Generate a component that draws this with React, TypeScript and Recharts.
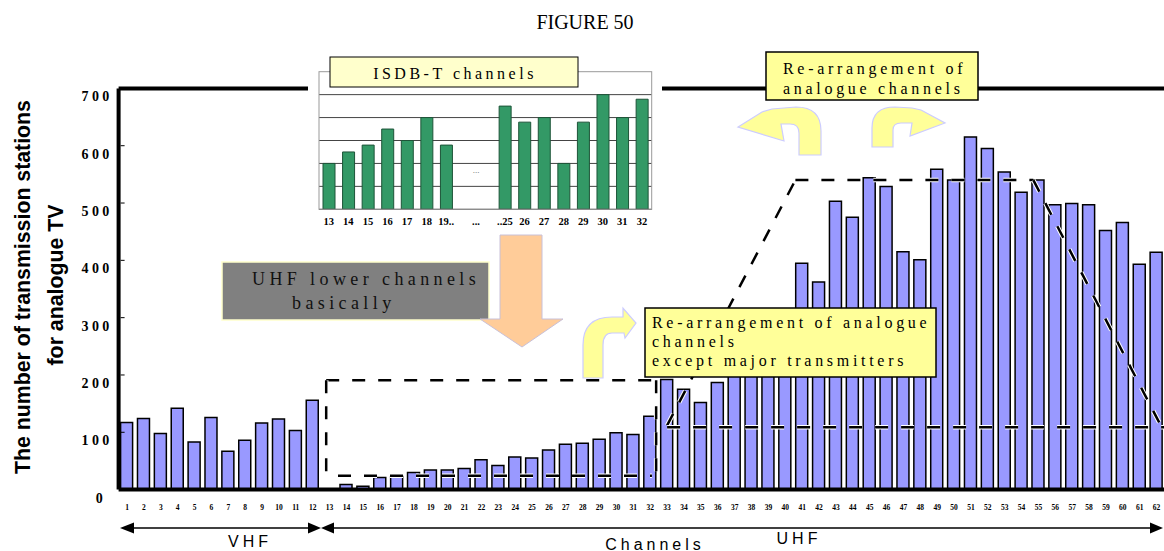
import React from 'react';
import { ComposedChart, BarChart, Bar, XAxis, YAxis, ReferenceLine } from 'recharts';

// analogue TV channels 1-12 (VHF) and 13-62 (UHF)
const channels = Array.from({ length: 62 }, (_, i) => i + 1);

// number of transmission stations per channel
const stations = [
  117, 124, 98, 142, 83, 126, 67, 86, 116, 123, 103, 156,
  1, 9, 6, 21, 23, 30, 34, 34, 37, 52, 42, 57, 55, 69, 79, 81, 88, 99, 96, 128,
  192, 175, 152, 187, 230, 260, 275, 290, 395, 362,
  503, 475, 544, 529, 415, 401, 559, 540, 615, 595,
  554, 519, 540, 497, 499, 497, 452, 466, 393, 414,
];

const yTicks = [0, 100, 200, 300, 400, 500, 600, 700];

// inset: ISDB-T channels
const isdbLabels = ['13', '14', '15', '16', '17', '18', '19..', '', '', '..25', '26', '27', '28', '29', '30', '31', '32'];
const isdbValues = [2.0, 2.5, 2.8, 3.5, 3.0, 4.0, 2.8, null, null, 4.5, 3.8, 4.0, 2.0, 3.8, 5.0, 4.0, 4.8];
const isdbGrid = [1, 2, 3, 4, 5];

// dashed outlines (channel, stations)
const lowerBox = [
  [{ x: 12.8, y: 191 }, { x: 32.35, y: 191 }],
  [{ x: 12.8, y: 191 }, { x: 12.8, y: 24 }],
  [{ x: 13.5, y: 24 }, { x: 32.1, y: 24 }],
  [{ x: 32.35, y: 191 }, { x: 32.35, y: 24 }],
];
const upperOutline = [
  [{ x: 33, y: 112 }, { x: 40.6, y: 540 }],
  [{ x: 40.6, y: 540 }, { x: 54.7, y: 540 }],
  [{ x: 54.7, y: 540 }, { x: 62.3, y: 109 }],
  [{ x: 33, y: 109 }, { x: 62.5, y: 109 }],
];

const data = channels.map((ch, i) => ({ ch, v: stations[i] }));
const isdbData = isdbLabels.map((l, i) => ({ l, v: isdbValues[i] }));

const SERIF = '"Liberation Serif", "Times New Roman", serif';
const SANS = '"Liberation Sans", Arial, sans-serif';
const PLOT_LEFT = 118.6;

const YTick = (props: any) => {
  const { y, payload } = props;
  const zero = payload.value === 0;
  return (
    <g>
      <line x1={PLOT_LEFT + 2} x2={PLOT_LEFT + 6} y1={y} y2={y} stroke="#000" strokeWidth={1} />
      <text x={zero ? 106 : 112.5} y={y + 8.5} textAnchor="end" dominantBaseline="central"
        fontFamily={SERIF} fontSize={14} fontWeight={600} letterSpacing={3.3} fill="#000">
        {payload.value}
      </text>
    </g>
  );
};

const XTick = (props: any) => {
  const { x, payload } = props;
  return (
    <text x={x} y={507.5} textAnchor="middle" dominantBaseline="central"
      fontFamily={SERIF} fontSize={7.5} fontWeight="bold" fill="#000">
      {payload.value}
    </text>
  );
};

const InsetTick = (props: any) => {
  const { x, payload } = props;
  return (
    <text x={x} y={171.7} textAnchor="middle" dominantBaseline="central"
      fontFamily={SERIF} fontSize={10.5} fontWeight="bold" fill="#000">
      {payload.value}
    </text>
  );
};

const dashed = (segs: { x: number; y: number }[][], key: string) =>
  segs.flatMap((s, i) => [
    <ReferenceLine key={`${key}w${i}`} segment={s} stroke="#fff" strokeWidth={4.5} strokeDasharray="13 13" />,
    <ReferenceLine key={`${key}b${i}`} segment={s} stroke="#000" strokeWidth={2.5} strokeDasharray="13 13" />,
  ]);

export default function App() {
  return (
    <div style={{ position: 'absolute', left: 0, top: 0, width: 1164, height: 551, background: '#fff', overflow: 'hidden' }}>
      <div style={{ position: 'absolute', left: 0, top: 0 }}>
        <ComposedChart width={1164} height={551} data={data}
          margin={{ top: 88.4, right: -1, left: 58.6, bottom: 31.4 }}>
          <XAxis type="number" dataKey="ch" domain={[0.5, 62.5]} allowDataOverflow ticks={channels} interval={0}
            height={30} tickLine={false} axisLine={{ stroke: '#000', strokeWidth: 4 }} tick={<XTick />} />
          <YAxis type="number" domain={[0, 700]} allowDataOverflow ticks={yTicks} width={60}
            tickLine={false} axisLine={{ stroke: '#000', strokeWidth: 4 }} tick={<YTick />} />
          <ReferenceLine y={700} stroke="#000" strokeWidth={4} />
          <Bar dataKey="v" fill="#9999ff" stroke="#000" strokeWidth={1.5} barSize={12} isAnimationActive={false} />
          {dashed(lowerBox, 'lo')}
          {dashed(upperOutline, 'up')}
        </ComposedChart>
      </div>

      <div style={{ position: 'absolute', left: 308, top: 50, width: 354, height: 180, background: '#fff' }}>
        <BarChart width={354} height={180} data={isdbData} margin={{ top: 21.7, right: 10.3, left: 11, bottom: 0 }}>
          <YAxis width={0} domain={[0, 6]} allowDataOverflow tick={false} axisLine={false} tickLine={false} />
          <XAxis dataKey="l" height={20.7} interval={0} tickLine={false}
            axisLine={{ stroke: '#333' }} tick={<InsetTick />} />
          {isdbGrid.map((g) => (
            <ReferenceLine key={g} y={g} stroke="#444" strokeWidth={1} zIndex={-100} />
          ))}
          <Bar dataKey="v" fill="#339966" stroke="#1d5438" strokeWidth={1} barSize={12} isAnimationActive={false} />
        </BarChart>
      </div>

      <svg width={1164} height={551} style={{ position: 'absolute', left: 0, top: 0, pointerEvents: 'none' }}>
        <text x={585} y={22} textAnchor="middle" dominantBaseline="central" fontFamily={SERIF} fontSize={20}>FIGURE 50</text>

        <text transform="translate(23,287) rotate(-90)" textAnchor="middle" dominantBaseline="central"
          fontFamily={SANS} fontWeight="bold" fontSize={21.3}>The number of transmission stations</text>
        <text transform="translate(56,285) rotate(-90)" textAnchor="middle" dominantBaseline="central"
          fontFamily={SANS} fontWeight="bold" fontSize={21.3}>for analogue TV</text>

        {/* inset frame and labels */}
        <rect x={319} y={71.7} width={332.7} height={137.6} fill="none" stroke="#999" strokeWidth={1} />
        <text x={476} y={170} textAnchor="middle" dominantBaseline="central" fontFamily={SERIF} fontSize={9} fill="#666">...</text>
        <text x={476} y={221.7} textAnchor="middle" dominantBaseline="central" fontFamily={SERIF} fontSize={10.5} fontWeight="bold">...</text>
        <rect x={330} y={57} width={248} height={30} fill="#ffffcc" stroke="#000" strokeWidth={1} />
        <text x={455} y={73} textAnchor="middle" dominantBaseline="central" fontFamily={SERIF} fontSize={16} letterSpacing={3.5}>ISDB-T channels</text>

        {/* gray note and peach arrow */}
        <rect x={222} y={262} width={267} height={58} fill="#808080" stroke="#ffffcc" strokeWidth={1.5} />
        <text x={252} y={279} dominantBaseline="central" fontFamily={SERIF} fontSize={18} letterSpacing={4.4} fill="#111">UHF lower channels</text>
        <text x={292} y={303} dominantBaseline="central" fontFamily={SERIF} fontSize={18} letterSpacing={4.4} fill="#111">basically</text>
        <polygon points="500,235 542,235 542,319 563,319 522,347 480,319 500,319" fill="#ffcc99" stroke="#c8c0d8" strokeWidth={1} />

        {/* yellow curved arrows */}
        <path d="M 799 155 L 799 133 Q 799 124 790 124 L 781 124 L 784 141 L 738 127 L 762 112 L 772 109 L 796 107 Q 821 107 821 131 L 821 155 Z"
          fill="#ffff99" stroke="#ccccff" strokeWidth={1.2} />
        <path d="M 893 147 L 893 130 Q 893 123 901 123 L 912 123 L 910 136 L 945 123 L 921 110 L 912 108 L 895 107 Q 872 107 872 128 L 872 147 Z"
          fill="#ffff99" stroke="#ccccff" strokeWidth={1.2} />
        <path d="M 583 378 L 583 345 Q 583 317 612 317 L 623 317 L 623 308 L 636 323 L 625 338 L 624 333 L 612 333 Q 603 333 603 345 L 603 378 Z"
          fill="#ffff99" stroke="#ccccff" strokeWidth={1.2} />

        {/* yellow notes */}
        <rect x={766} y={52} width={212} height={48} fill="#ffff99" stroke="#000" strokeWidth={1.5} />
        <text x={783} y={68} dominantBaseline="central" fontFamily={SERIF} fontSize={16} letterSpacing={3.7}>Re-arrangement of</text>
        <text x={783} y={88} dominantBaseline="central" fontFamily={SERIF} fontSize={16} letterSpacing={3.7}>analogue channels</text>

        <rect x={645} y={308} width={291} height={69} fill="#ffff99" stroke="#000" strokeWidth={1.5} />
        <text x={652} y={322} dominantBaseline="central" fontFamily={SERIF} fontSize={16} letterSpacing={3.7}>Re-arrangement of analogue</text>
        <text x={652} y={341} dominantBaseline="central" fontFamily={SERIF} fontSize={16} letterSpacing={3.7}>channels</text>
        <text x={652} y={360} dominantBaseline="central" fontFamily={SERIF} fontSize={16} letterSpacing={3.7}>except major transmitters</text>

        {/* band arrows */}
        <line x1={130} y1={528} x2={311} y2={528} stroke="#000" strokeWidth={1.5} />
        <polygon points="120,528 134,522.5 134,533.5" fill="#000" />
        <polygon points="321,528 308,522.5 308,533.5" fill="#000" />
        <line x1={331} y1={528} x2={1152} y2={528} stroke="#000" strokeWidth={1.5} />
        <polygon points="321,528 334,522.5 334,533.5" fill="#000" />
        <polygon points="1163,528 1150,522.5 1150,533.5" fill="#000" />
        <text x={250} y={541} textAnchor="middle" dominantBaseline="central" fontFamily={SANS} fontSize={16} letterSpacing={4}>VHF</text>
        <text x={799} y={538} textAnchor="middle" dominantBaseline="central" fontFamily={SANS} fontSize={16} letterSpacing={4}>UHF</text>
        <text x={655} y={544} textAnchor="middle" dominantBaseline="central" fontFamily={SANS} fontSize={16} letterSpacing={4}>Channels</text>
      </svg>
    </div>
  );
}
